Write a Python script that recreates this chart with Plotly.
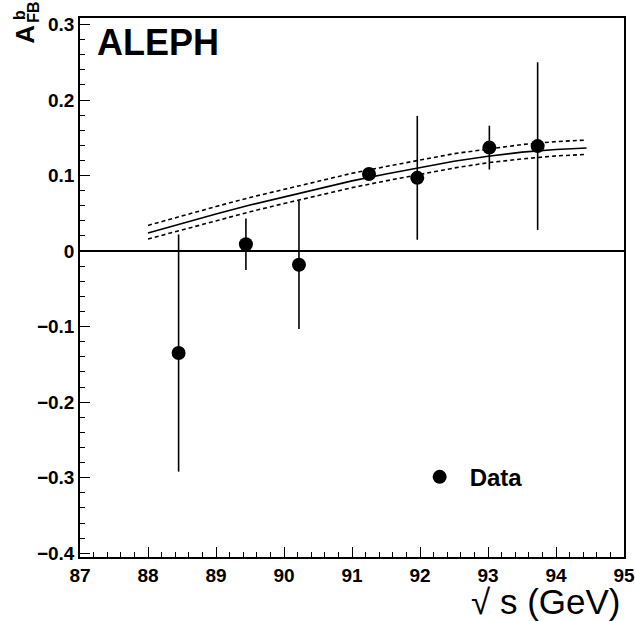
import plotly.graph_objects as go

# ---- data ----
sqrt_s = [88.45, 89.44, 90.22, 91.25, 91.96, 93.02, 93.73]
afb = [-0.135, 0.009, -0.018, 0.102, 0.097, 0.137, 0.139]
afb_err = [0.157, 0.034, 0.085, 0.006, 0.082, 0.029, 0.111]

curve_x = [88.0, 88.5, 89.0, 89.5, 90.0, 90.5, 91.0, 91.5, 92.0, 92.5, 93.0, 93.5, 94.0, 94.45]
curve_mid = [0.024, 0.037, 0.049, 0.061, 0.072, 0.083, 0.093, 0.102, 0.111, 0.119, 0.1255, 0.131, 0.1345, 0.1365]
curve_up = [0.034, 0.047, 0.059, 0.071, 0.082, 0.093, 0.103, 0.112, 0.121, 0.129, 0.135, 0.141, 0.145, 0.147]
curve_lo = [0.016, 0.028, 0.040, 0.052, 0.063, 0.074, 0.084, 0.093, 0.102, 0.110, 0.117, 0.122, 0.126, 0.128]

x_ticks = [87, 88, 89, 90, 91, 92, 93, 94, 95]
x_ticklabels = ["87", "88", "89", "90", "91", "92", "93", "94", "95"]
y_ticks = [0.3, 0.2, 0.1, 0.0, -0.1, -0.2, -0.3, -0.4]
y_ticklabels = ["0.3", "0.2", "0.1", "0", "\u22120.1", "\u22120.2", "\u22120.3", "\u22120.4"]

FONT = "Liberation Sans, Arial, Helvetica, sans-serif"
BOLD = dict(family=FONT, color="black", weight="bold")

fig = go.Figure()

fig.add_trace(go.Scatter(x=curve_x, y=curve_up, mode="lines",
                         line=dict(color="black", width=1.6, dash="4px,3px"),
                         showlegend=False, hoverinfo="skip"))
fig.add_trace(go.Scatter(x=curve_x, y=curve_lo, mode="lines",
                         line=dict(color="black", width=1.6, dash="4px,3px"),
                         showlegend=False, hoverinfo="skip"))
fig.add_trace(go.Scatter(x=curve_x, y=curve_mid, mode="lines",
                         line=dict(color="black", width=1.6),
                         showlegend=False, hoverinfo="skip"))
fig.add_trace(go.Scatter(x=sqrt_s, y=afb, mode="markers", name="Data",
                         marker=dict(color="black", size=14, symbol="circle"),
                         error_y=dict(type="data", array=afb_err, visible=True,
                                      color="black", thickness=1.6, width=0)))

fig.update_layout(
    width=635, height=621,
    margin=dict(l=80, r=11, t=18, b=64, autoexpand=False),
    paper_bgcolor="white", plot_bgcolor="white",
    showlegend=True,
    legend=dict(x=0.606, y=0.148, xanchor="left", yanchor="middle",
                bgcolor="rgba(0,0,0,0)", borderwidth=0, itemwidth=50,
                font=dict(size=24, **BOLD)),
    font=dict(family=FONT, color="black"),
)

fig.update_xaxes(
    range=[87, 95], showgrid=False, zeroline=False, automargin=False,
    showline=True, linecolor="black", linewidth=1.6, mirror=True,
    ticks="inside", ticklen=10, tickwidth=1.2, tickcolor="black",
    tickvals=x_ticks, ticktext=x_ticklabels,
    tickfont=dict(size=19, **BOLD),
    minor=dict(dtick=0.2, ticks="inside", ticklen=5, tickwidth=1.2, tickcolor="black"),
)
fig.update_yaxes(
    range=[-0.405, 0.3086], showgrid=False, automargin=False,
    zeroline=True, zerolinecolor="black", zerolinewidth=1.6,
    showline=True, linecolor="black", linewidth=1.6, mirror=True,
    ticks="inside", ticklen=10, tickwidth=1.2, tickcolor="black",
    tickvals=y_ticks, ticktext=y_ticklabels,
    tickfont=dict(size=19, **BOLD),
    minor=dict(dtick=0.02, ticks="inside", ticklen=5, tickwidth=1.2, tickcolor="black"),
)

# ALEPH label
fig.add_annotation(text="ALEPH", x=0.027, y=0.955, xref="paper", yref="paper",
                   xanchor="left", yanchor="middle", showarrow=False,
                   font=dict(size=36, **BOLD))

# x-axis title
fig.add_annotation(text="\u221a s (GeV)", x=0.998, y=-0.082, xref="paper", yref="paper",
                   xanchor="right", yanchor="middle", showarrow=False,
                   font=dict(size=35, family=FONT, color="black"))

# y-axis title A^b_FB, rotated
fig.add_annotation(text="A", x=-0.100, y=0.970, xref="paper", yref="paper",
                   xanchor="center", yanchor="middle", showarrow=False, textangle=-90,
                   font=dict(size=26, **BOLD))
fig.add_annotation(text="b", x=-0.111, y=1.005, xref="paper", yref="paper",
                   xanchor="center", yanchor="middle", showarrow=False, textangle=-90,
                   font=dict(size=16, **BOLD))
fig.add_annotation(text="FB", x=-0.086, y=1.010, xref="paper", yref="paper",
                   xanchor="center", yanchor="middle", showarrow=False, textangle=-90,
                   font=dict(size=16, **BOLD))

fig.write_html("out.html", config={"displayModeBar": False},
               post_script="document.body.style.margin='0';document.body.style.overflow='hidden';")
